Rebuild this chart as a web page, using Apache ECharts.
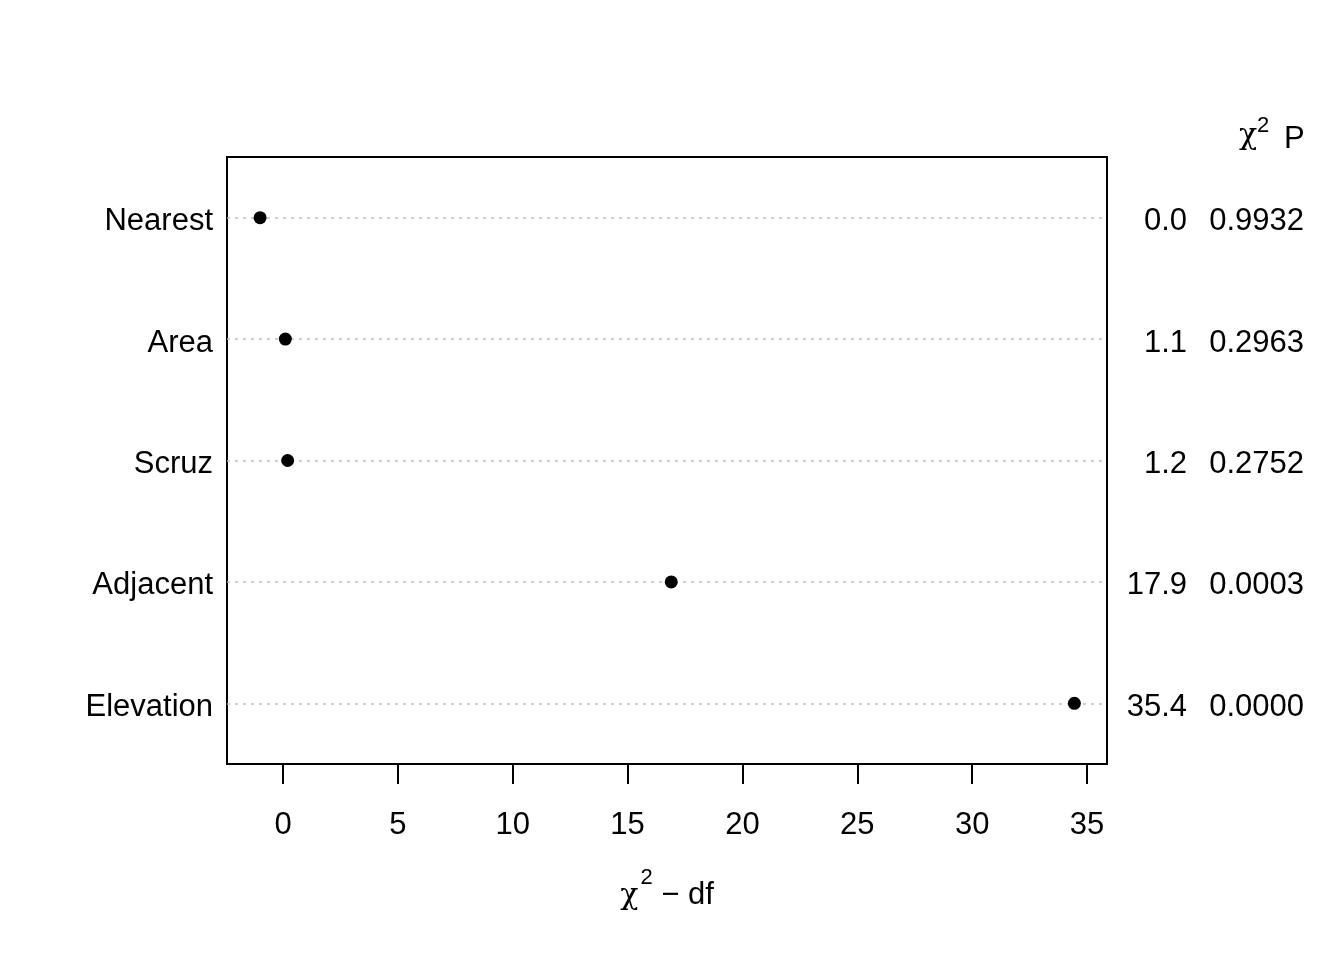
<!DOCTYPE html>
<html>
<head>
<meta charset="utf-8">
<script src="https://cdn.jsdelivr.net/npm/echarts@6/dist/echarts.min.js"></script>
<style>html,body{margin:0;padding:0;background:#fff;}#c{width:1344px;height:960px;}</style>
</head>
<body>
<div id="c"></div>
<script>
const categories = ['Nearest', 'Area', 'Scruz', 'Adjacent', 'Elevation'];
const chiSqMinusDf = [-1.0, 0.1, 0.2, 16.9, 34.45];
const chiSqLabels = ['0.0', '1.1', '1.2', '17.9', '35.4'];
const pLabels = ['0.9932', '0.2963', '0.2752', '0.0003', '0.0000'];
const xTicks = [0, 5, 10, 15, 20, 25, 30, 35];

const FONT = 'Liberation Sans, Arial, sans-serif';
const FS = 31;
const chart = echarts.init(document.getElementById('c'), null, {renderer: 'canvas'});

const option = {
  backgroundColor: '#fff',
  animation: false,
  grid: {left: 227, right: 237, top: 157, bottom: 196, show: true, borderColor: '#000', borderWidth: 2, backgroundColor: 'transparent'},
  xAxis: {
    type: 'value', min: -2.44, max: 35.87,
    axisLine: {show: false},
    splitLine: {show: false},
    axisTick: {show: true, customValues: xTicks, length: 20, lineStyle: {color: '#000', width: 2}},
    axisLabel: {customValues: xTicks, margin: 46, color: '#000', fontSize: FS, fontFamily: FONT},
    name: '{chi|χ}{sup|2}{t| − df}',
    nameLocation: 'middle', nameGap: 103,
    nameTextStyle: {
      color: '#000', fontSize: FS, fontFamily: FONT,
      rich: {
        chi: {fontSize: 30, fontFamily: 'DejaVu Serif, serif', color: '#000', verticalAlign: 'bottom'},
        sup: {fontSize: 22, fontFamily: FONT, color: '#000', padding: [0, 0, 22, 2], verticalAlign: 'bottom'},
        t: {fontSize: FS, fontFamily: FONT, color: '#000', verticalAlign: 'bottom'}
      }
    }
  },
  yAxis: [{
    type: 'category', data: categories, inverse: true,
    axisLine: {show: false}, axisTick: {show: false}, splitLine: {show: false},
    axisLabel: {
      margin: 14, color: '#000', fontSize: FS, fontFamily: FONT,
      formatter: function (v) { return '{n|' + v + '}'; },
      rich: {n: {fontSize: FS, fontFamily: FONT, color: '#000', padding: [8, 0, 0, 0]}}
    }
  }, {
    type: 'category', data: categories, inverse: true, position: 'right',
    axisLine: {show: false}, axisTick: {show: false}, splitLine: {show: false},
    axisLabel: {
      margin: 10, color: '#000', fontSize: FS, fontFamily: FONT, padding: [8, 0, 0, 0],
      formatter: function (v, i) { return '{a|' + chiSqLabels[i] + '}{b|' + pLabels[i] + '}'; },
      rich: {
        a: {width: 70, align: 'right', fontSize: FS, fontFamily: FONT, color: '#000'},
        b: {width: 117, align: 'right', fontSize: FS, fontFamily: FONT, color: '#000'}
      }
    }
  }],
  graphic: [
    {type: 'text', left: 1239, top: 121, style: {text: 'χ', fontSize: 30, fontFamily: 'DejaVu Serif, serif', fill: '#000'}},
    {type: 'text', left: 1257, top: 115, style: {text: '2', fontSize: 22, fontFamily: FONT, fill: '#000'}},
    {type: 'text', left: 1284, top: 124, style: {text: 'P', fontSize: FS, fontFamily: FONT, fill: '#000'}}
  ],
  series: [{
    type: 'scatter',
    data: [],
    z: 1,
    markLine: {
      silent: true, symbol: 'none', label: {show: false},
      lineStyle: {color: '#bebebe', width: 1.5, type: [3, 5]},
      data: categories.map(c => ({yAxis: c}))
    }
  }, {
    type: 'scatter',
    data: chiSqMinusDf.map((v, i) => [v, categories[i]]),
    symbol: 'circle', symbolSize: 13,
    itemStyle: {color: '#000', opacity: 1},
    z: 5
  }]
};
chart.setOption(option);
</script>
</body>
</html>
